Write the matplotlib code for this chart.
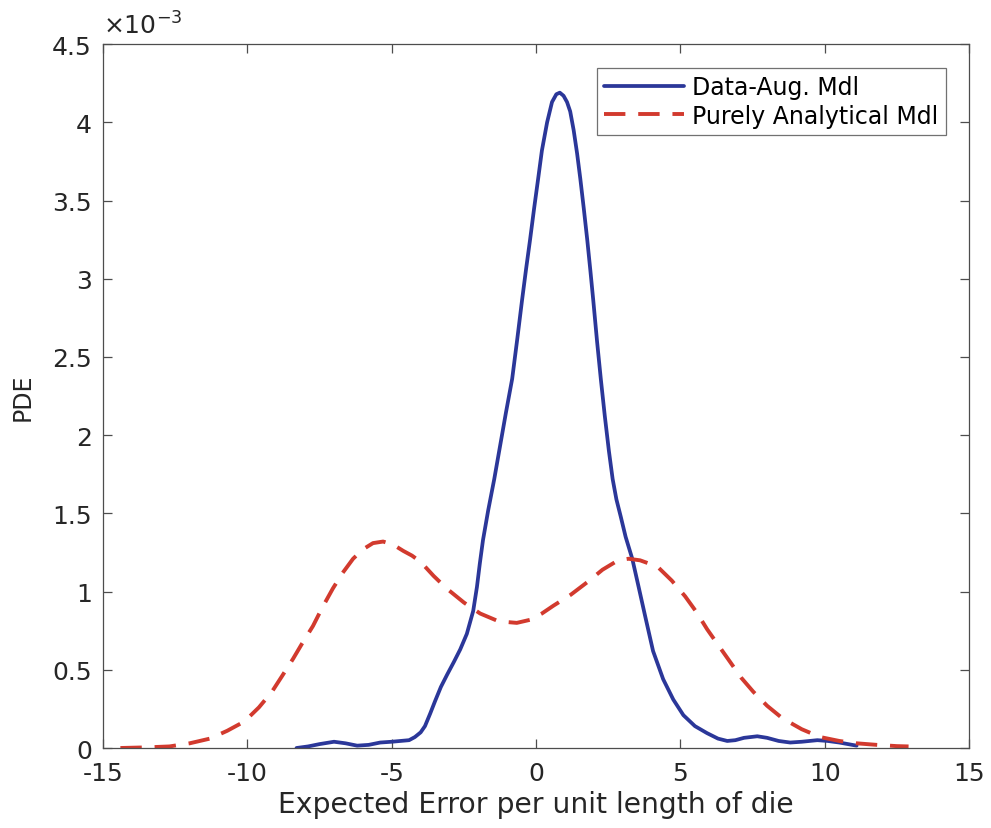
import matplotlib
matplotlib.use("Agg")
import matplotlib.pyplot as plt
import numpy as np

# Estimated error densities (x: error per unit length, y: density in units of 1e-3)
aug_x = [-8.3, -7.9, -7.5, -7.0, -6.6, -6.2, -5.8, -5.4, -5.0, -4.7, -4.4, -4.2,
         -4.0, -3.85, -3.67, -3.5, -3.3, -3.08, -2.85, -2.63, -2.4, -2.18, -2.05,
         -1.95, -1.84, -1.66, -1.45, -1.25, -1.05, -0.83, -0.65, -0.49, -0.35, -0.21,
         -0.07, 0.07, 0.2, 0.38, 0.55, 0.7, 0.82, 0.95, 1.07, 1.18, 1.3, 1.42, 1.53,
         1.65, 1.77, 1.88, 1.98, 2.11, 2.24, 2.38, 2.52, 2.65, 2.78, 2.93, 3.1, 3.33,
         3.55, 3.78, 4.05, 4.4, 4.75, 5.1, 5.5, 5.92, 6.3, 6.62, 6.9, 7.2, 7.66, 8.0,
         8.4, 8.8, 9.2, 9.74, 10.1, 10.5, 10.8, 11.1]
aug_y = [0.0, 0.01, 0.025, 0.04, 0.03, 0.015, 0.02, 0.035, 0.04, 0.045, 0.05, 0.07,
         0.1, 0.14, 0.22, 0.3, 0.39, 0.47, 0.55, 0.63, 0.73, 0.876, 1.03,
         1.18, 1.33, 1.52, 1.72, 1.93, 2.14, 2.36, 2.62, 2.86, 3.06, 3.25,
         3.45, 3.64, 3.82, 4.0, 4.13, 4.18, 4.19, 4.17, 4.13, 4.07, 3.95, 3.8, 3.64,
         3.45, 3.25, 3.05, 2.86, 2.6, 2.36, 2.12, 1.9, 1.72, 1.59, 1.48, 1.35, 1.21,
         1.03, 0.84, 0.62, 0.44, 0.31, 0.21, 0.14, 0.095, 0.06, 0.045, 0.05, 0.065, 0.075, 0.065,
         0.045, 0.035, 0.04, 0.05, 0.045, 0.035, 0.025, 0.015]

ana_x = [-14.4, -13.5, -12.7, -12.0, -11.3, -10.7, -10.1, -9.6, -9.15, -8.8, -8.42,
         -8.1, -7.73, -7.4, -7.04, -6.7, -6.34, -6.0, -5.65, -5.3, -4.95, -4.6, -4.3,
         -4.0, -3.55, -3.1, -2.5, -1.94, -1.3, -0.67, -0.2, 0.2, 0.6, 1.2, 1.77, 2.3,
         2.84, 3.2, 3.6, 4.2, 4.7, 5.16, 5.55, 5.92, 6.3, 6.72, 7.1, 7.52, 8.0, 8.53,
         9.2, 9.84, 10.5, 11.1, 11.8, 12.5, 12.9]
ana_y = [0.0, 0.004, 0.01, 0.03, 0.06, 0.11, 0.17, 0.26, 0.36, 0.46, 0.57,
         0.67, 0.78, 0.9, 1.02, 1.12, 1.21, 1.27, 1.31, 1.32, 1.3, 1.26, 1.23,
         1.19, 1.1, 1.02, 0.93, 0.86, 0.81, 0.80, 0.82, 0.86, 0.91, 0.98, 1.06, 1.14,
         1.2, 1.21, 1.2, 1.16, 1.07, 0.97, 0.87, 0.76, 0.66, 0.55, 0.45, 0.36, 0.27, 0.19,
         0.12, 0.07, 0.045, 0.03, 0.02, 0.012, 0.01]

labels = ["Data-Aug. Mdl", "Purely Analytical Mdl"]
x_ticks = [-15, -10, -5, 0, 5, 10, 15]
y_ticks = [0, 0.5, 1, 1.5, 2, 2.5, 3, 3.5, 4, 4.5]
scale = 1e-3

plt.rcParams["font.family"] = ["DejaVu Sans"]
plt.rcParams["axes.unicode_minus"] = False
plt.rcParams["mathtext.fontset"] = "dejavusans"

fig = plt.figure(figsize=(9.91, 8.29), dpi=100)
ax = fig.add_axes([0.104, 0.0965, 0.874, 0.849])

ax.plot(aug_x, np.array(aug_y) * scale, color="#2b3799", lw=2.7,
        solid_joinstyle="round", solid_capstyle="round", label=labels[0])
ax.plot(ana_x, np.array(ana_y) * scale, color="#d23a2e", lw=2.8,
        linestyle=(0, (5.5, 3.3)), label=labels[1])

ax.set_xlim(-15, 15)
ax.set_ylim(0, 4.5 * scale)
ax.set_xticks(x_ticks)
ax.set_xticklabels([f"{t:g}" for t in x_ticks])
ax.set_yticks(np.array(y_ticks) * scale)
ax.set_yticklabels([f"{t:g}" for t in y_ticks])

ax.tick_params(direction="in", length=6.5, width=0.9, top=True, right=True,
               labelsize=18, colors="#4d4d4d", labelcolor="#262626")
ax.tick_params(axis="x", pad=9)
ax.tick_params(axis="y", pad=8)
for s in ax.spines.values():
    s.set_color("#4d4d4d")
    s.set_linewidth(0.9)

# exponent marker for the y axis
ax.text(0.0, 1.008, r"$\times10^{-3}$", transform=ax.transAxes, ha="left",
        va="bottom", fontsize=18, color="#262626")

ax.set_xlabel("Expected Error per unit length of die", fontsize=20.3, color="#262626", labelpad=4)
ax.set_ylabel("PDE", fontsize=17, color="#262626", labelpad=13)

leg = ax.legend(loc="upper right", fontsize=17, fancybox=False, frameon=True,
                edgecolor="#4d4d4d", handlelength=3.4, handletextpad=0.35,
                borderaxespad=1.0, borderpad=0.3, labelspacing=0.2)
leg.get_frame().set_linewidth(0.9)

fig.savefig("out.png", dpi=100)
